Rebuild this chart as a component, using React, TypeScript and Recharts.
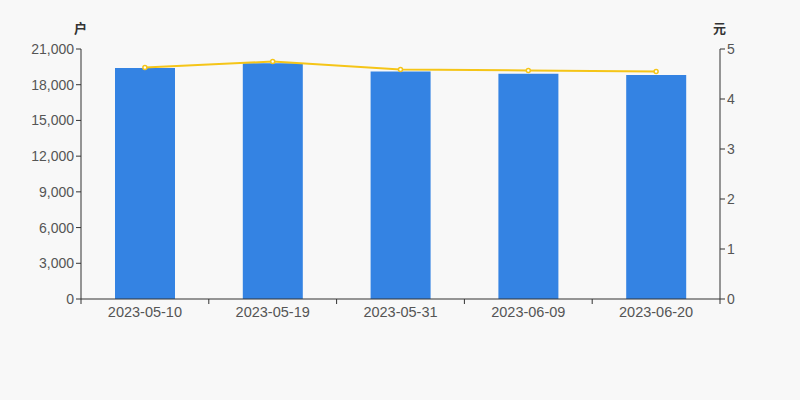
import { ComposedChart, Bar, Line, XAxis, YAxis } from 'recharts';

const dates = ['2023-05-10', '2023-05-19', '2023-05-31', '2023-06-09', '2023-06-20'];
const holders = [19400, 19800, 19100, 18930, 18820]; // 户
const avgPrice = [4.63, 4.75, 4.59, 4.57, 4.55]; // 元
const leftTicks = [0, 3000, 6000, 9000, 12000, 15000, 18000, 21000];
const rightTicks = [0, 1, 2, 3, 4, 5];

const W = 800;
const H = 400;
const PLOT_W = 639;
const FONT = '"Liberation Sans", Arial, sans-serif';
const AXIS = '#333';
const TEXT = '#555';

const data = dates.map((d, i) => ({ date: d, holders: holders[i], price: avgPrice[i] }));

const band = PLOT_W / dates.length;

function DateTick(props: any) {
    const { x, y, payload, index } = props;
    return (
        <g>
            <line x1={x - band / 2} y1={y - 8} x2={x - band / 2} y2={y - 3} stroke={AXIS} />
            {index === dates.length - 1 && (
                <line x1={x + band / 2} y1={y - 8} x2={x + band / 2} y2={y - 3} stroke={AXIS} />
            )}
            <text x={x} y={y + 10} textAnchor="middle" fill={TEXT} fontSize={14.5} fontFamily={FONT}>
                {payload.value}
            </text>
        </g>
    );
}

const unitStyle = {
    position: 'absolute' as const,
    top: 18,
    fontSize: 13,
    fontWeight: 'bold' as const,
    color: '#333',
    fontFamily: '"Noto Sans CJK SC", sans-serif',
};

export default function App() {
    return (
        <div style={{ position: 'absolute', left: 0, top: 0, width: W, height: H, background: '#f8f8f8' }}>
            <div style={{ ...unitStyle, left: 74 }}>户</div>
            <div style={{ ...unitStyle, left: 713 }}>元</div>
            <ComposedChart width={W} height={H} data={data} margin={{ top: 49, right: 0, bottom: 71, left: 0 }}>
                <XAxis
                    dataKey="date"
                    axisLine={{ stroke: AXIS }}
                    tickLine={false}
                    tick={<DateTick />}
                    interval={0}
                    height={30}
                />
                <YAxis
                    yAxisId="left"
                    width={81}
                    domain={[0, 21000]}
                    ticks={leftTicks}
                    interval={0}
                    tickFormatter={(v: number) => v.toLocaleString('en-US')}
                    axisLine={{ stroke: AXIS }}
                    tickLine={{ stroke: AXIS }}
                    tickSize={5}
                    tick={{ fill: TEXT, fontSize: 14, fontFamily: FONT }}
                />
                <YAxis
                    yAxisId="right"
                    orientation="right"
                    width={80}
                    domain={[0, 5]}
                    ticks={rightTicks}
                    interval={0}
                    axisLine={{ stroke: AXIS }}
                    tickLine={{ stroke: AXIS }}
                    tickSize={5}
                    tick={{ fill: TEXT, fontSize: 14, fontFamily: FONT }}
                />
                <Bar yAxisId="left" dataKey="holders" fill="#3483e3" barSize={60} isAnimationActive={false} />
                <Line
                    yAxisId="right"
                    dataKey="price"
                    stroke="#f5c518"
                    strokeWidth={2}
                    dot={{ r: 2, fill: '#fff', stroke: '#f5c518', strokeWidth: 1.5 }}
                    activeDot={false}
                    isAnimationActive={false}
                />
            </ComposedChart>
        </div>
    );
}
